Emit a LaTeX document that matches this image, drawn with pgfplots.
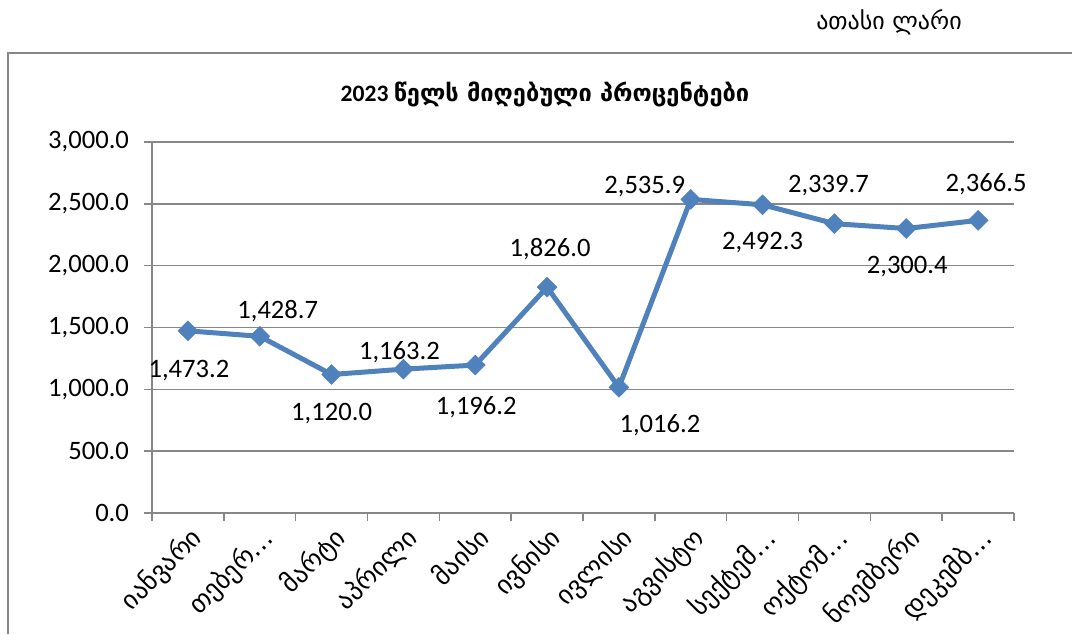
\documentclass[border=0pt]{standalone}
\usepackage{fontspec}
\setmainfont{Carlito}
\newfontfamily\geo{DejaVu Sans}
\usepackage{pgfplots}
\usepackage{pgfplotstable}
\pgfplotsset{compat=1.18}
\definecolor{lineblue}{HTML}{4F81BD}
\definecolor{gridgray}{HTML}{878787}

\pgfplotstableread{
x y dx dy
1 1473.2 0.5 -20
2 1428.7 9 12.5
3 1120.0 0 -19.5
4 1163.2 -2 8.5
5 1196.2 0.5 -21
6 1826.0 1.5 19
7 1016.2 20.5 -19
8 2535.9 -23 6.5
9 2492.3 0 -19
10 2339.7 -3 19
11 2300.4 0.5 -19
12 2366.5 4 18
}\datatable

\begin{document}
\begin{tikzpicture}
\path[use as bounding box] (0,0) rectangle (536pt,317pt);
\draw[gridgray, line width=0.75pt] (4pt,0) -- (4pt,290.5pt) -- (536pt,290.5pt);
\node[font=\geo\fontsize{12}{14}\selectfont] at (444.5pt,306pt) {ათასი ლარი};
\node[font=\bfseries\fontsize{11.8}{13}\selectfont] at (272.5pt,270pt) {2023 {\geo წელს მიღებული პროცენტები}};
\begin{axis}[
  at={(76pt,60.5pt)}, anchor=south west, scale only axis,
  width=431pt, height=185.5pt,
  xmin=0.5, xmax=12.5, ymin=0, ymax=3000,
  ytick={0,500,...,3000},
  xtick={0.5,1.5,...,12.5},
  x tick label as interval,
  xticklabels={იანვარი,თებერ…,მარტი,აპრილი,მაისი,ივნისი,ივლისი,აგვისტო,სექტემ…,ოქტომ…,ნოემბერი,დეკემბ…},
  separate axis lines,
  axis x line*=bottom, axis y line*=left,
  axis line style={gridgray, line width=0.75pt, -},
  ymajorgrids, grid style={gridgray, line width=0.75pt},
  tick align=outside, major tick length=4pt,
  tick style={gridgray, line width=0.75pt},
  xticklabel style={rotate=45, anchor=north east, font=\geo\fontsize{13}{15}\selectfont, inner sep=1pt},
  yticklabel style={font=\fontsize{13.3}{15}\selectfont, xshift=-4pt},
  clip=false,
  /pgf/number format/.cd, fixed, fixed zerofill, precision=1, 1000 sep={,}, assume math mode=true,
]
\addplot[lineblue, line width=2.5pt, mark=square*, mark size=3.5pt,
  mark options={rotate=45, fill=lineblue, line width=0.3pt},
  nodes near coords,
  visualization depends on={\thisrow{dx} \as \dx},
  visualization depends on={\thisrow{dy} \as \dy},
  every node near coord/.append style={anchor=center, xshift=\dx pt, yshift=\dy pt,
    font=\fontsize{13.3}{15}\selectfont, text=black}
] table[x=x,y=y] {\datatable};
\end{axis}
\end{tikzpicture}
\end{document}
